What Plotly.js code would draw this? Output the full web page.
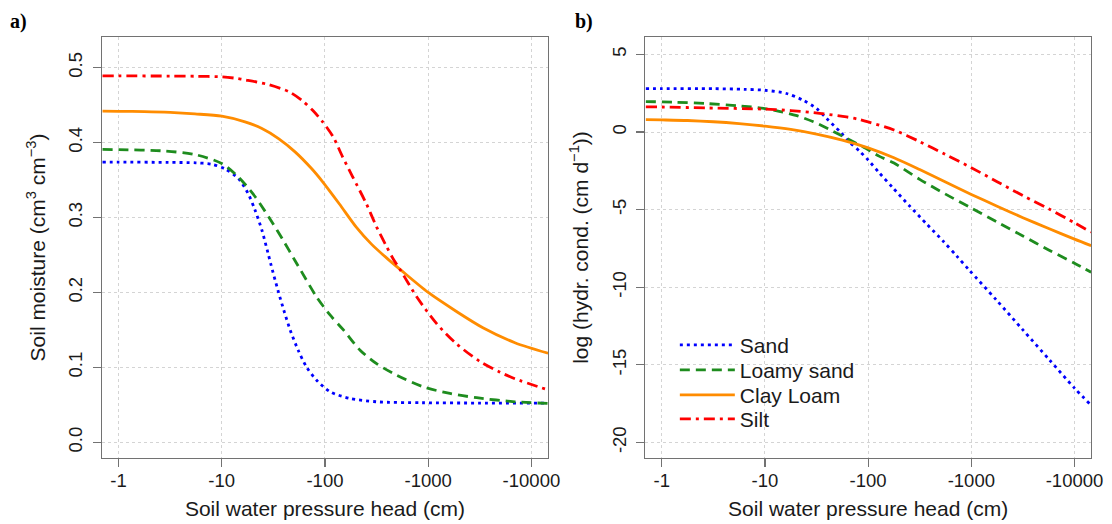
<!DOCTYPE html>
<html>
<head>
<meta charset="utf-8">
<script src="https://cdn.plot.ly/plotly-3.0.1.min.js"></script>
<style>
html,body{margin:0;padding:0;background:#ffffff;}
#chart{width:1112px;height:524px;}
</style>
</head>
<body>
<div id="chart"></div>
<script>
// ---------- data ----------
const soilNames = ["Sand", "Loamy sand", "Clay Loam", "Silt"];
const headTickVals = [1, 10, 100, 1000, 10000];
const headTickText = ["-1", "-10", "-100", "-1000", "-10000"];
const thetaTickVals = [0, 0.1, 0.2, 0.3, 0.4, 0.5];
const thetaTickText = ["0.0", "0.1", "0.2", "0.3", "0.4", "0.5"];
const logKTickVals = [-20, -15, -10, -5, 0, 5];
const logKTickText = ["-20", "-15", "-10", "-5", "0", "5"];

// Panel a: soil moisture (cm3 cm-3) vs pressure head (cm)
const headSandA = [-0.7, -1, -3, -5.6, -8, -10.7, -14.5, -18, -21, -24.5, -28, -30, -35, -40, -46, -55, -66, -83, -112, -174, -316, -890, -3160, -14500];
const thetaSand = [0.374, 0.374, 0.3735, 0.373, 0.371, 0.365, 0.352, 0.332, 0.31, 0.283, 0.253, 0.237, 0.203, 0.176, 0.15, 0.123, 0.101, 0.083, 0.0676, 0.0587, 0.0542, 0.0529, 0.0525, 0.0525];

const headLoamySandA = [-0.7, -1, -2.6, -5.5, -10, -14.5, -21, -30, -40, -51, -58, -83, -112, -151, -219, -316, -490, -891, -1622, -2951, -6918, -14500];
const thetaLoamySand = [0.391, 0.3905, 0.389, 0.384, 0.372, 0.354, 0.328, 0.296, 0.268, 0.243, 0.23, 0.194, 0.17, 0.15, 0.123, 0.105, 0.09, 0.0742, 0.0653, 0.0596, 0.0542, 0.052];

const headClayLoamA = [-0.7, -1, -1.78, -3.16, -5.5, -10, -16.8, -24.5, -35.5, -51.3, -74.1, -95, -138, -200, -282, -407, -537, -1000, -1862, -3388, -6918, -14500];
const thetaClayLoam = [0.4418, 0.4417, 0.4413, 0.4402, 0.4382, 0.4351, 0.4276, 0.4187, 0.4053, 0.3876, 0.3653, 0.3476, 0.318, 0.2875, 0.2645, 0.2445, 0.2305, 0.200, 0.175, 0.153, 0.133, 0.119];

const headSiltA = [-0.7, -1, -3.16, -5.62, -10, -13.2, -17, -28, -45, -60, -76, -95, -120, -148, -186, -251, -316, -389, -457, -537, -776, -1202, -1862, -3162, -4898, -6918, -14500];
const thetaSilt = [0.489, 0.4889, 0.4887, 0.4884, 0.4876, 0.486, 0.4835, 0.4775, 0.4676, 0.456, 0.443, 0.4276, 0.4076, 0.381, 0.354, 0.3187, 0.2876, 0.263, 0.245, 0.23, 0.194, 0.1587, 0.132, 0.108, 0.094, 0.085, 0.070];

// Panel b: log hydraulic conductivity (cm d-1) vs pressure head (cm)
const headSandB = [-0.7, -1, -3.16, -6.3, -10, -16.2, -23.4, -31.6, -39.8, -53.7, -66, -83, -100, -129, -174, -251, -372, -537, -724, -955, -1738, -3162, -5754, -10000, -14500];
const logKSand = [2.80, 2.80, 2.79, 2.75, 2.69, 2.48, 2.05, 1.51, 0.86, 0.0, -0.65, -1.25, -1.8, -2.65, -3.6, -4.75, -5.95, -7.05, -8.0, -8.9, -10.8, -12.75, -14.7, -16.5, -17.6];

const headLoamySandB = [-0.7, -1.3, -2.75, -5.75, -10, -14.1, -20.4, -29.5, -42.7, -61.7, -89.1, -129, -178, -316, -562, -1000, -1778, -3162, -5623, -10000, -14500];
const logKLoamySand = [1.96, 1.92, 1.83, 1.68, 1.51, 1.32, 1.05, 0.66, 0.15, -0.4, -0.95, -1.57, -2.0, -3.05, -4.0, -4.9, -5.8, -6.7, -7.6, -8.45, -9.03];

const headClayLoamB = [-0.7, -1, -1.78, -3.16, -5.62, -10, -17.8, -31.6, -56.2, -100, -178, -316, -562, -1000, -1778, -3162, -5623, -10000, -14500];
const logKClayLoam = [0.80, 0.78, 0.74, 0.66, 0.54, 0.38, 0.17, -0.13, -0.52, -1.02, -1.66, -2.42, -3.22, -4.02, -4.78, -5.52, -6.22, -6.9, -7.32];

const headSiltB = [-0.7, -1, -2.75, -10, -17.8, -33.9, -61.7, -79.4, -100, -178, -316, -562, -1000, -1778, -3162, -5623, -10000, -14500];
const logKSilt = [1.62, 1.61, 1.55, 1.47, 1.38, 1.2, 0.97, 0.83, 0.65, 0.13, -0.62, -1.45, -2.3, -3.2, -4.1, -4.95, -5.85, -6.45];

// ---------- styling ----------
const FONT = "Liberation Sans, Arial, sans-serif";
const styles = [
  {color: "#0000ff", dash: "3px,4px"},
  {color: "#1e8c1e", dash: "10px,6px"},
  {color: "#ff8c00", dash: "solid"},
  {color: "#ff0000", dash: "11px,5px,3px,5px"}
];
const legendIds = ["legend", "legend2", "legend3", "legend4"];
const legendRowY = [0.2679, 0.2085, 0.1490, 0.0920];
const absHead = a => a.map(v => Math.abs(v));

const panelA = [[headSandA, thetaSand], [headLoamySandA, thetaLoamySand], [headClayLoamA, thetaClayLoam], [headSiltA, thetaSilt]];
const panelB = [[headSandB, logKSand], [headLoamySandB, logKLoamySand], [headClayLoamB, logKClayLoam], [headSiltB, logKSilt]];

const traces = [];
panelA.forEach((p, i) => traces.push({
  x: absHead(p[0]), y: p[1], type: "scatter", mode: "lines", name: soilNames[i],
  xaxis: "x", yaxis: "y", showlegend: false, hoverinfo: "skip",
  line: {color: styles[i].color, dash: styles[i].dash, width: 2.8, shape: "spline", smoothing: 0.8}
}));
panelB.forEach((p, i) => traces.push({
  x: absHead(p[0]), y: p[1], type: "scatter", mode: "lines", name: soilNames[i],
  xaxis: "x2", yaxis: "y2", showlegend: true, legend: legendIds[i], hoverinfo: "skip",
  line: {color: styles[i].color, dash: styles[i].dash, width: 2.8, shape: "spline", smoothing: 0.8}
}));

const axisCommon = {
  showline: true, mirror: true, linecolor: "#727272", linewidth: 1.3,
  ticks: "outside", ticklen: 8, tickcolor: "#727272", tickwidth: 1.2,
  showgrid: true, gridcolor: "#d4d4d4", griddash: "dot", gridwidth: 1,
  zeroline: false,
  tickfont: {family: FONT, size: 18.5, color: "#1a1a1a"}
};
const titleFont = {family: FONT, size: 21, color: "#1a1a1a"};

const xAxisBase = Object.assign({}, axisCommon, {
  type: "log", range: [-0.16, 4.16],
  tickmode: "array", tickvals: headTickVals, ticktext: headTickText,
  ticklabelstandoff: -3,
  title: {text: "Soil water pressure head (cm)", font: titleFont, standoff: 11}
});

const layout = {
  width: 1112, height: 524, autosize: false,
  margin: {l: 101.7, r: 20.5, t: 37, b: 66.3, pad: 0},
  paper_bgcolor: "#ffffff", plot_bgcolor: "#ffffff",
  font: {family: FONT, color: "#1a1a1a"},
  xaxis: Object.assign({}, xAxisBase, {domain: [0, 0.4509], anchor: "y"}),
  xaxis2: Object.assign({}, xAxisBase, {domain: [0.5493, 1], anchor: "y2"}),
  yaxis: Object.assign({}, axisCommon, {
    domain: [0, 1], anchor: "x", range: [-0.0208, 0.5408],
    tickmode: "array", tickvals: thetaTickVals, ticktext: thetaTickText, tickangle: -90,
    ticklabelstandoff: 3,
    title: {text: "Soil moisture (cm<sup>3</sup> cm<sup>\u22123</sup>)", font: titleFont, standoff: 14}
  }),
  yaxis2: Object.assign({}, axisCommon, {
    domain: [0, 1], anchor: "x2", range: [-21.0, 6.12],
    tickmode: "array", tickvals: logKTickVals, ticktext: logKTickText, tickangle: -90,
    ticklabelstandoff: 3,
    title: {text: "log (hydr. cond. (cm d<sup>\u22121</sup>))", font: titleFont, standoff: 14}
  }),
  annotations: [
    {text: "<b>a)</b>", xref: "paper", yref: "paper", x: -0.0846, y: 1.0357, xanchor: "center", yanchor: "middle",
     showarrow: false, font: {family: "Liberation Serif, Times New Roman, serif", size: 20, color: "#000"}},
    {text: "<b>b)</b>", xref: "paper", yref: "paper", x: 0.4873, y: 1.0357, xanchor: "center", yanchor: "middle",
     showarrow: false, font: {family: "Liberation Serif, Times New Roman, serif", size: 20, color: "#000"}}
  ]
};
legendIds.forEach((id, i) => {
  layout[id] = {
    x: (675 - 101.7) / 989.8, y: legendRowY[i], xanchor: "left", yanchor: "middle",
    bgcolor: "rgba(0,0,0,0)", borderwidth: 0,
    font: {family: FONT, size: 21, color: "#1a1a1a"},
    itemwidth: 55
  };
});

Plotly.newPlot("chart", traces, layout, {staticPlot: true, displayModeBar: false});
</script>
</body>
</html>
